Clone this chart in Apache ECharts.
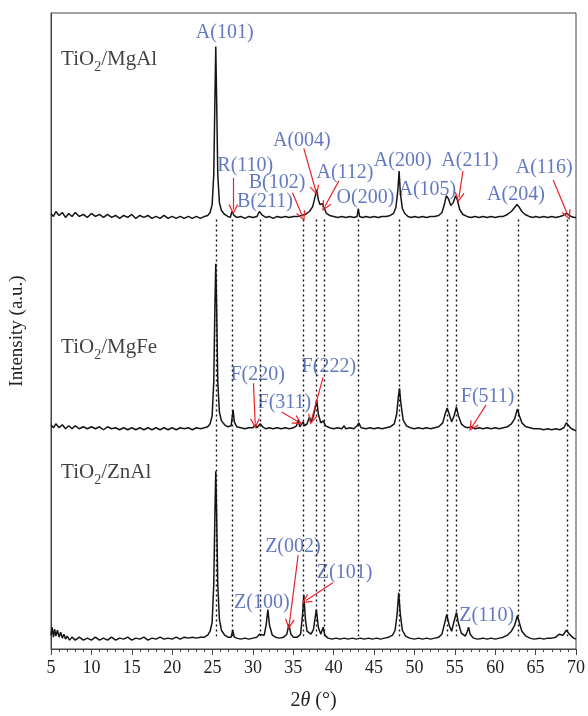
<!DOCTYPE html>
<html><head><meta charset="utf-8">
<script src="https://cdn.jsdelivr.net/npm/echarts/dist/echarts.min.js"></script>
<style>html,body{margin:0;padding:0;background:#fff}#c{width:588px;height:716px}</style>
</head><body><div id="c"></div>
<script>
// 2θ (°), intensity (a.u., traces already stacked)
const mgAl = [[5,441],[5.3,438],[5.6,443],[6,439],[6.4,442],[6.8,437],[7.2,441],[7.6,438],[8,442],[8.5,438],[9,440],[9.5,437],[10,441],[10.5,438],[11,440],[11.5,437],[12,440],[12.5,437],[13,439],[13.5,436],[14,439],[14.5,437],[15,440],[15.5,436],[16,439],[16.5,437],[17,439],[17.5,436],[18,438],[18.5,436],[19,439],[19.5,436],[20,438],[20.5,436],[21,438],[21.5,436],[22,438],[22.5,436],[23,438],[23.5,436],[24,438],[24.4,439],[24.7,442],[24.95,450],[25.15,480],[25.3,560],[25.4,610],[25.5,560],[25.65,480],[25.85,452],[26.1,444],[26.5,440],[26.9,438],[27.2,437],[27.4,443],[27.5,445],[27.65,439],[28,437],[28.5,438],[29,436],[29.5,438],[30,437],[30.5,438],[30.8,443],[30.95,445],[31.2,439],[31.6,437],[32,438],[32.5,436],[33,438],[33.5,437],[34,438],[34.5,437],[35,438],[35.5,438],[36,439],[36.2,441],[36.5,440],[37,443],[37.4,448],[37.7,458],[37.9,465],[38.1,455],[38.3,450],[38.6,451],[38.8,447],[39.1,441],[39.5,439],[40,438],[40.5,437],[41,438],[41.5,437],[42,438],[42.5,437],[42.9,438],[43.05,446],[43.2,438],[43.6,437],[44,438],[44.5,437],[45,438],[45.5,437],[46,438],[46.5,438],[47,439],[47.4,441],[47.7,447],[47.95,465],[48.1,484],[48.25,462],[48.5,446],[48.8,441],[49.2,438],[49.6,437],[50,438],[50.5,437],[51,438],[51.5,437],[52,438],[52.5,438],[53,439],[53.4,442],[53.7,450],[53.95,459],[54.2,456],[54.5,449],[54.8,452],[55.1,459],[55.3,455],[55.6,445],[56,440],[56.5,438],[57,437],[57.5,438],[58,437],[58.5,438],[59,437],[59.5,438],[60,437],[60.5,438],[61,438],[61.5,440],[62,443],[62.4,447],[62.7,450],[63,447],[63.3,443],[63.7,440],[64.2,438],[64.7,437],[65,438],[65.5,437],[66,438],[66.5,437],[67,438],[67.5,437],[68,438],[68.4,439],[68.8,441],[69,440],[69.4,438],[69.8,437],[70,437]];
const mgFe = [[5,227],[5.3,224],[5.6,228],[6,224],[6.4,227],[6.8,223],[7.2,226],[7.6,223],[8,226],[8.5,223],[9,225],[9.5,223],[10,225],[10.5,223],[11,225],[11.5,222],[12,225],[12.5,223],[13,224],[13.5,222],[14,224],[14.5,222],[15,224],[15.5,222],[16,224],[16.5,222],[17,224],[17.5,222],[18,224],[18.5,222],[19,224],[19.5,222],[20,224],[20.5,222],[21,224],[21.5,223],[22,224],[22.5,222],[23,224],[23.5,223],[24,224],[24.4,225],[24.7,228],[24.95,236],[25.15,270],[25.3,350],[25.4,390],[25.5,350],[25.65,270],[25.85,240],[26.1,231],[26.5,227],[26.9,225],[27.3,226],[27.45,236],[27.55,242],[27.7,230],[28,225],[28.5,224],[29,223],[29.5,224],[30,224],[30.3,227],[30.5,224],[30.9,228],[31.2,225],[31.6,223],[32,224],[32.5,223],[33,224],[33.5,223],[34,224],[34.5,223],[35,224],[35.4,226],[35.6,232],[35.8,225],[36.2,230],[36.4,226],[36.7,228],[37.0,235],[37.2,230],[37.5,236],[37.9,252],[38.1,238],[38.4,229],[38.7,231],[39,226],[39.5,224],[40,223],[40.5,224],[41,223],[41.3,226],[41.5,223],[42,224],[42.5,223],[42.9,226],[43.1,229],[43.4,224],[44,223],[44.5,224],[45,223],[45.5,224],[46,223],[46.5,224],[47,225],[47.5,228],[47.8,238],[48.0,255],[48.15,264],[48.3,250],[48.6,232],[49,226],[49.5,224],[50,223],[50.5,224],[51,223],[51.5,224],[52,223],[52.5,224],[53,225],[53.5,229],[53.8,238],[54.05,244],[54.3,238],[54.6,230],[54.9,236],[55.2,245],[55.45,236],[55.8,228],[56.2,225],[56.6,224],[57.1,225],[57.5,223],[58,224],[58.5,223],[59,224],[59.5,223],[60,224],[60.5,223],[61,224],[61.5,225],[62,228],[62.4,233],[62.75,243],[63.0,236],[63.3,229],[63.8,225],[64.3,224],[64.8,223],[65.5,223],[66,222],[66.5,223],[67,222],[67.5,223],[68,222],[68.5,224],[68.8,229],[69,228],[69.3,224],[69.7,222],[70,221]];
const znAl = [[5,14],[5.15,22],[5.3,12],[5.45,20],[5.6,13],[5.8,19],[6,12],[6.2,17],[6.4,11],[6.6,15],[6.8,10],[7,13],[7.3,9],[7.6,12],[8,9],[8.5,12],[9,9],[9.5,11],[10,9],[10.5,12],[11,9],[11.5,11],[12,9],[12.5,12],[13,9],[13.5,11],[14,10],[14.5,12],[15,9],[15.5,11],[16,10],[16.5,12],[17,9],[17.5,11],[18,10],[18.5,12],[19,10],[19.5,11],[20,10],[20.5,12],[21,10],[21.5,12],[22,11],[22.5,12],[23,11],[23.5,12],[24,12],[24.4,14],[24.7,18],[24.95,27],[25.15,65],[25.3,140],[25.4,180],[25.5,140],[25.65,65],[25.85,30],[26.1,19],[26.5,14],[26.9,12],[27.3,12],[27.5,19],[27.7,12],[28,11],[28.5,10],[29,11],[29.5,10],[30,11],[30.5,12],[30.8,15],[31.0,14],[31.4,14],[31.65,25],[31.85,40],[32.05,24],[32.4,14],[32.8,12],[33.3,11],[33.8,12],[34.2,15],[34.45,25],[34.7,15],[35,12],[35.5,12],[35.9,15],[36.15,35],[36.3,55],[36.5,30],[36.7,18],[36.9,19],[37.2,15],[37.5,20],[37.85,40],[38.1,22],[38.4,15],[38.7,22],[38.9,14],[39.3,11],[39.8,10],[40.3,11],[40.8,10],[41.3,11],[41.8,10],[42.3,11],[42.8,10],[43.3,11],[43.8,10],[44.3,11],[44.8,10],[45.3,11],[45.8,10],[46.3,11],[46.8,12],[47.3,14],[47.6,19],[47.85,35],[48.05,57],[48.25,35],[48.5,19],[48.9,13],[49.4,11],[50,10],[50.5,11],[51,10],[51.5,11],[52,10],[52.5,11],[53,12],[53.4,15],[53.7,25],[54.0,35],[54.3,24],[54.6,18],[54.9,28],[55.2,37],[55.45,26],[55.8,16],[56.3,13],[56.55,18],[56.7,22],[56.9,15],[57.3,11],[57.8,10],[58.5,11],[59,10],[59.5,11],[60,10],[60.5,11],[61,12],[61.5,14],[62,18],[62.4,24],[62.75,34],[63.0,26],[63.3,18],[63.8,13],[64.3,11],[64.8,10],[65.5,11],[66,10],[66.5,11],[67,11],[67.5,12],[67.9,15],[68.1,16],[68.4,14],[68.8,19],[68.95,20],[69.3,14],[69.7,11],[70,10]];

// reference (dotted) reflection positions, 2θ
const refLines = [25.4, 27.5, 30.9, 36.2, 37.9, 38.8, 43.1, 48.1, 54.1, 55.2, 62.8, 68.9];
const refTop = 435, refBottom = 13;

// peak labels: [2θ, intensity, text]
const peakLabels = [
  [26.5, 624, 'A(101)'], [29.05, 489, 'R(110)'], [31.5, 453, 'B(211)'], [32.98, 472, 'B(102)'],
  [36.06, 515, 'A(004)'], [41.4, 482, 'A(112)'], [43.93, 457, 'O(200)'], [48.54, 494, 'A(200)'],
  [51.6, 465, 'A(105)'], [56.85, 494, 'A(211)'], [62.56, 460, 'A(204)'], [66.07, 487, 'A(116)'],
  [30.58, 278, 'F(220)'], [33.9, 249, 'F(311)'], [39.4, 286, 'F(222)'], [59.06, 255, 'F(511)'],
  [31.1, 47, 'Z(100)'], [34.95, 104, 'Z(002)'], [41.35, 77, 'Z(101)'], [58.94, 34, 'Z(110)']
];
// arrows: [from 2θ, from intensity, to 2θ, to intensity]
const arrows = [
  [27.57, 477, 27.57, 445], [34.9, 462, 36.14, 438], [36.3, 507, 37.78, 464], [40.65, 474, 38.9, 448],
  [56.0, 484, 55.5, 457], [67.18, 475, 69.0, 439],
  [30.07, 269, 30.28, 228], [33.56, 240, 35.6, 230], [38.68, 275, 37.25, 232], [58.85, 247, 57.13, 225],
  [35.6, 95, 34.5, 25], [39.9, 67, 36.55, 49]
];
// sample names: [2θ, intensity, name]
const sampleNames = [[6.25, 597, 'MgAl'], [6.25, 305, 'MgFe'], [6.25, 179, 'ZnAl']];

const FONT = 'Liberation Serif';
const arrowHead = 'path://M5,0 L10,10 L8.6,10 L5,2.8 L1.4,10 L0,10 Z';

const chart = echarts.init(document.getElementById('c'), null, {renderer: 'canvas'});
const traceStyle = {type: 'line', showSymbol: false, symbol: 'none', sampling: 'none',
  lineStyle: {color: '#151515', width: 1.5}, silent: true};

chart.setOption({
  animation: false,
  backgroundColor: '#fff',
  grid: {left: 50, right: 10, top: 13, bottom: 59, show: true, borderColor: '#444', borderWidth: 1},
  xAxis: {
    type: 'value', min: 5, max: 70, interval: 5,
    name: '{n|2}{i|θ}{n| (°)}', nameLocation: 'middle', nameGap: 42,
    nameTextStyle: {rich: {n: {fontFamily: FONT, fontSize: 20, color: '#222'}, i: {fontFamily: FONT, fontSize: 20, fontStyle: 'italic', color: '#222'}}},
    axisLine: {show: true, lineStyle: {color: '#444', width: 1}},
    axisTick: {show: true, inside: false, length: 6, lineStyle: {color: '#444'}},
    minorTick: {show: true, splitNumber: 5, length: 3, lineStyle: {color: '#444'}},
    axisLabel: {fontFamily: FONT, fontSize: 18, color: '#222', margin: 10},
    splitLine: {show: false}
  },
  yAxis: {
    type: 'value', min: 0, max: 644,
    name: 'Intensity (a.u.)', nameLocation: 'middle', nameGap: 24, nameRotate: 90,
    nameTextStyle: {fontFamily: FONT, fontSize: 19, color: '#222'},
    axisLine: {show: true, lineStyle: {color: '#444', width: 1}},
    axisTick: {show: false}, axisLabel: {show: false}, splitLine: {show: false}
  },
  series: [
    Object.assign({}, traceStyle, {name: 'MgAl', data: mgAl}),
    Object.assign({}, traceStyle, {name: 'MgFe', data: mgFe}),
    Object.assign({}, traceStyle, {name: 'ZnAl', data: znAl}),
    {
      type: 'line', data: [], silent: true,
      markLine: {
        silent: true, symbol: ['none', 'none'], label: {show: false},
        lineStyle: {color: '#111', type: [2, 3], width: 1.4},
        data: refLines.map(x => [{coord: [x, refTop]}, {coord: [x, refBottom]}])
      }
    },
    {
      type: 'line', data: [], silent: true,
      markLine: {
        silent: true, symbol: ['none', arrowHead], symbolSize: 10, label: {show: false},
        lineStyle: {color: '#e8242c', type: 'solid', width: 1.2},
        itemStyle: {color: '#e8242c'},
        data: arrows.map(a => [{coord: [a[0], a[1]]}, {coord: [a[2], a[3]]}])
      }
    },
    {
      type: 'scatter', symbolSize: 0, silent: true,
      data: peakLabels,
      label: {show: true, position: 'inside', formatter: p => p.data[2],
        fontFamily: FONT, fontSize: 20, color: '#3b58b0'}
    },
    {
      type: 'scatter', symbolSize: 0, silent: true,
      data: sampleNames,
      label: {show: true, position: [0, 0], align: 'left', verticalAlign: 'middle',
        formatter: p => '{a|TiO}{s|2}{a|/' + p.data[2] + '}',
        rich: {a: {fontFamily: FONT, fontSize: 21, color: '#111'},
               s: {fontFamily: FONT, fontSize: 14, color: '#111', padding: [16, 0, 0, 0]}}}
    }
  ]
});
</script></body></html>
